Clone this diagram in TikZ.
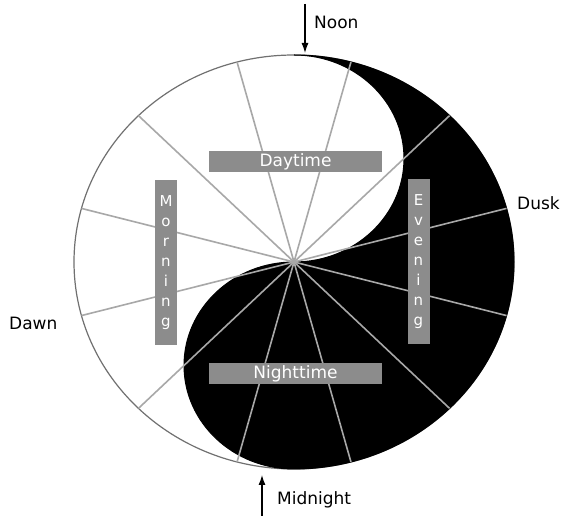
\documentclass[tikz,border=0pt]{standalone}
\usepackage{fontspec}
\setmainfont{DejaVu Sans}
\usetikzlibrary{arrows.meta}
\definecolor{boxgray}{HTML}{8C8C8C}
\definecolor{spokegray}{HTML}{A8A8A8}
\definecolor{rimgray}{HTML}{707070}

\begin{document}
\begin{tikzpicture}[
  x=1pt, y=1pt,
  font=\fontsize{17}{20}\selectfont,
  rim/.style={draw=rimgray, line width=1.2pt},
  spoke/.style={draw=spokegray, line width=1.6pt},
  band/.style={fill=boxgray, text=white, inner sep=0pt},
  hband/.style={band, minimum width=173pt, minimum height=21pt},
  vband/.style={band, minimum width=22pt, minimum height=165pt, align=center,
    font=\fontsize{15}{20}\selectfont},
  lbl/.style={anchor=west, inner sep=0pt},
  arr/.style={-{Latex[length=10pt,width=7pt]}, line width=1.2pt}
]
\useasboundingbox (0,0) rectangle (566,516);
\coordinate (c) at (294,254);

% day disc
\draw[rim, fill=white] (c) ellipse [x radius=220, y radius=207];

% night half
\filldraw[black, line width=1pt] (294,461)
  arc[start angle=90, end angle=-90, x radius=220, y radius=207]
  arc[start angle=-90, end angle=-270, x radius=110, y radius=103.5]
  arc[start angle=-90, end angle=90, x radius=110, y radius=103.5] -- cycle;

% hour spokes
\foreach \a [count=\i] in {15,45,...,345}
  \path (c) ++(\a:220 and 207) coordinate (r\i);
\foreach \i in {1,...,12}
  \draw[spoke] (c) -- (r\i);

\node[hband] (day) at (295.5,354.5) {Daytime};
\node[hband] (night) at (295.5,142.5) {Nighttime};
\node[vband] (morn) at (166,253.5) {M\\o\\r\\n\\i\\n\\g};
\node[vband] (eve) at (418.5,254) {E\\v\\e\\n\\i\\n\\g};

% compass labels
\coordinate (noontail) at (305,512);
\coordinate (noon) at (305,463);
\draw[arr] (noontail) -- (noon);
\node[lbl] (noonlbl) at (314,494) {Noon};

\coordinate (midtail) at (262,0);
\coordinate (midnight) at (262,41);
\draw[arr] (midtail) -- (midnight);
\node[lbl] (midlbl) at (277,16) {Midnight};

\node[lbl] (dusk) at (517,313) {Dusk};
\node[lbl] (dawn) at (9,193) {Dawn};
\end{tikzpicture}
\end{document}
